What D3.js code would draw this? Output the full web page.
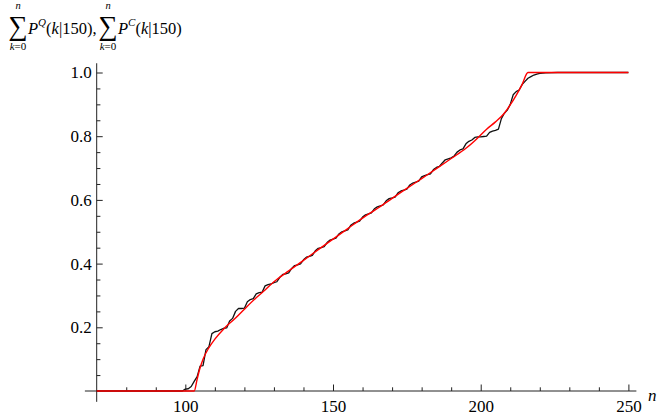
<!DOCTYPE html>
<html>
<head>
<meta charset="utf-8">
<script src="https://cdn.jsdelivr.net/npm/d3@7/dist/d3.min.js"></script>
<style>
  body { margin: 0; background: #fff; }
  svg text { font-family: "Liberation Serif", "Times New Roman", serif !important; fill: #000; }
  .line { fill: none; stroke-linejoin: round; }
  .axis path { display: none; }
  .axis line { stroke: #222; }
</style>
</head>
<body>
<div id="chart"></div>
<script>
// classical curve, sum P^C(k|150)
var redN = [70, 103, 104, 105, 106, 108, 110, 113, 117, 120, 124, 127, 130, 135, 140, 145, 150,
            155, 160, 165, 170, 175, 180, 185, 190, 195, 198, 202, 205, 208, 210, 212, 214, 216, 250];
var redY = [0, 0, 0.037, 0.073, 0.1, 0.136, 0.163, 0.195, 0.229, 0.257, 0.293, 0.317, 0.343, 0.377,
            0.41, 0.444, 0.477, 0.51, 0.543, 0.573, 0.605, 0.636, 0.667, 0.698, 0.73, 0.762, 0.786,
            0.822, 0.845, 0.872, 0.898, 0.928, 0.962, 1.0, 1.0];

// quantum curve, sum P^Q(k|150), one value per n
var blackN = [70, 99, 100, 101, 102, 103, 104, 105, 106, 107, 108, 109, 110, 111, 112, 113, 114,
              115, 116, 117, 118, 119, 120, 121, 122, 123, 124, 125, 126, 127, 128, 129, 130,
              131, 132, 133, 134, 135, 136, 137, 138, 139, 140, 141, 142, 143, 144, 145, 146,
              147, 148, 149, 150, 151, 152, 153, 154, 155, 156, 157, 158, 159, 160, 161, 162,
              163, 164, 165, 166, 167, 168, 169, 170, 171, 172, 173, 174, 175, 176, 177, 178,
              179, 180, 181, 182, 183, 184, 185, 186, 187, 188, 189, 190, 191, 192, 193, 194,
              195, 196, 197, 198, 199, 200, 201, 202, 203, 204, 205, 206, 207, 208, 209, 210,
              211, 212, 213, 214, 215, 216, 217, 218, 219, 220, 222, 226, 250];
var blackY = [0, 0, 0.006, 0.007, 0.014, 0.03, 0.045, 0.078, 0.08, 0.13, 0.139, 0.18, 0.186, 0.188,
              0.193, 0.197, 0.198, 0.22, 0.228, 0.25, 0.259, 0.259, 0.26, 0.28, 0.287, 0.29, 0.305,
              0.309, 0.31, 0.33, 0.334, 0.336, 0.34,
              0.343, 0.357, 0.366, 0.368, 0.371, 0.385, 0.394, 0.396, 0.399, 0.412, 0.42, 0.423,
              0.426, 0.44, 0.448, 0.45, 0.453, 0.466, 0.474, 0.477, 0.48, 0.493, 0.5, 0.503,
              0.506, 0.52, 0.527, 0.53, 0.533, 0.546, 0.553, 0.556, 0.559, 0.572, 0.578, 0.581,
              0.584, 0.597, 0.604, 0.606, 0.609, 0.622, 0.628, 0.631, 0.634, 0.647, 0.653, 0.656,
              0.659, 0.672, 0.676, 0.679, 0.682, 0.695, 0.702, 0.705, 0.716, 0.726, 0.729, 0.732,
              0.738, 0.75, 0.757, 0.76, 0.776, 0.784, 0.788, 0.796, 0.798, 0.798, 0.799, 0.8,
              0.812, 0.816, 0.818, 0.822, 0.855, 0.872, 0.882, 0.9, 0.93, 0.94, 0.945, 0.962,
              0.972, 0.982, 0.987, 0.992, 0.995, 0.997, 0.999, 1.0, 1.0];

var xMajor = [100, 150, 200, 250];
var xMinor = [80, 90, 110, 120, 130, 140, 160, 170, 180, 190, 210, 220, 230, 240];
var yMajor = [0.2, 0.4, 0.6, 0.8, 1.0];
var yLabels = ["0.2", "0.4", "0.6", "0.8", "1.0"];
var yMinor = [0.05, 0.1, 0.15, 0.25, 0.3, 0.35, 0.45, 0.5, 0.55, 0.65, 0.7, 0.75, 0.85, 0.9, 0.95];

var width = 657, height = 419;
var svg = d3.select("#chart").append("svg")
    .attr("width", width)
    .attr("height", height);

var x = d3.scaleLinear().domain([70, 250]).range([96.7, 628.4]),
    y = d3.scaleLinear().domain([0, 1]).range([391, 72.5]);

// axis lines (a bit past the plot range, like Mathematica does)
svg.append("line")
    .attr("x1", x(66)).attr("x2", x(252.7))
    .attr("y1", y(0)).attr("y2", y(0))
    .attr("stroke", "#222");
svg.append("line")
    .attr("x1", x(70)).attr("x2", x(70))
    .attr("y1", y(1.029)).attr("y2", y(-0.034))
    .attr("stroke", "#222");

// x ticks point up into the plot
svg.append("g")
    .attr("class", "axis")
    .attr("transform", "translate(0," + y(0) + ")")
    .call(d3.axisBottom(x).tickValues(xMajor).tickSize(-6.5).tickPadding(9)
          .tickFormat(d3.format("d")))
    .selectAll("text")
      .attr("font-size", 17);
svg.append("g")
    .attr("class", "axis")
    .attr("transform", "translate(0," + y(0) + ")")
    .call(d3.axisBottom(x).tickValues(xMinor).tickSize(-3.7).tickFormat(""));

svg.append("g")
    .attr("class", "axis")
    .attr("transform", "translate(" + x(70) + ",0)")
    .call(d3.axisLeft(y).tickValues(yMajor).tickSize(-6).tickPadding(5)
          .tickFormat(function(d, i){ return yLabels[i]; }))
    .selectAll("text")
      .attr("font-size", 17);
svg.append("g")
    .attr("class", "axis")
    .attr("transform", "translate(" + x(70) + ",0)")
    .call(d3.axisLeft(y).tickValues(yMinor).tickSize(-3.7).tickFormat(""));

// the two curves
var redData = redN.map(function(d, i){ return {n: d, v: redY[i]}; });
var blackData = blackN.map(function(d, i){ return {n: d, v: blackY[i]}; });

var line = d3.line()
    .x(function(d) { return x(d.n); })
    .y(function(d) { return y(d.v); });

svg.append("path")
    .datum(blackData)
    .attr("class", "line")
    .attr("stroke", "#111")
    .attr("stroke-width", 1.3)
    .attr("d", line);

svg.append("path")
    .datum(redData)
    .attr("class", "line")
    .attr("stroke", "#f00")
    .attr("stroke-width", 1.4)
    .attr("d", line.curve(d3.curveMonotoneX));

// axis label n
svg.append("text")
    .attr("x", 648).attr("y", 401)
    .attr("font-size", 17)
    .attr("font-style", "italic")
    .text("n");

// y label: two sums
var lab = svg.append("g");
[[8, "Q", "|150),"], [98, "C", "|150)"]].forEach(function(s) {
  var sx = s[0];
  lab.append("text")
      .attr("x", sx + 10).attr("y", 35)
      .attr("text-anchor", "middle")
      .attr("font-size", 27)
      .text("\u2211");
  lab.append("text")
      .attr("x", sx + 10).attr("y", 9)
      .attr("text-anchor", "middle")
      .attr("font-size", 10.5)
      .attr("font-style", "italic")
      .text("n");
  var t = lab.append("text")
      .attr("x", sx + 10).attr("y", 50)
      .attr("text-anchor", "middle")
      .attr("font-size", 11);
  t.append("tspan").attr("font-style", "italic").text("k");
  t.append("tspan").text("=0");
  var p = lab.append("text")
      .attr("x", sx + 20).attr("y", 34)
      .attr("font-size", 16.5);
  p.append("tspan").attr("font-style", "italic").text("P");
  p.append("tspan").attr("font-style", "italic").attr("font-size", 11).attr("dy", -8).text(s[1]);
  p.append("tspan").attr("dy", 8).text("(");
  p.append("tspan").attr("font-style", "italic").text("k");
  p.append("tspan").text(s[2]);
});
</script>
</body>
</html>
